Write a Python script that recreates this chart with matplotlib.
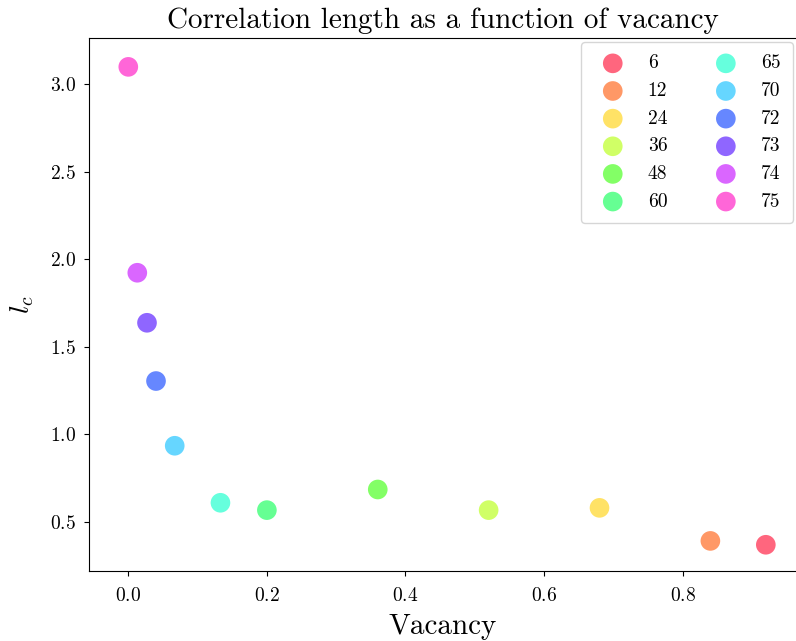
import numpy as np
import matplotlib
matplotlib.use("Agg")
import matplotlib.pyplot as plt

plt.rcParams["font.family"] = "serif"
plt.rcParams["font.serif"] = ["cmr10"]
plt.rcParams["mathtext.fontset"] = "cm"
plt.rcParams["axes.formatter.use_mathtext"] = True

# number of occupied sites (out of 75) and the fitted correlation length
n_sites = [6, 12, 24, 36, 48, 60, 65, 70, 72, 73, 74, 75]
vacancy = [0.920, 0.840, 0.680, 0.520, 0.360, 0.200, 0.133, 0.067, 0.040, 0.027, 0.013, 0.000]
l_c = [0.368, 0.390, 0.579, 0.566, 0.684, 0.566, 0.608, 0.934, 1.304, 1.637, 1.923, 3.100]

colors = plt.cm.gist_rainbow(np.linspace(0, 1, len(n_sites)))

fig = plt.figure(figsize=(7.96, 6.41), dpi=100)
ax = fig.add_axes([89 / 796, 1 - 571 / 641, (797 - 89) / 796, (571 - 38) / 641])

for n, v, l, c in zip(n_sites, vacancy, l_c, colors):
    ax.scatter(v, l, s=200, color=c, alpha=0.6, edgecolors="none", label=str(n))

ax.set_xlim(-0.0567, 0.965)
ax.set_ylim(0.218, 3.265)
ax.set_xticks([0.0, 0.2, 0.4, 0.6, 0.8])
ax.set_yticks([0.5, 1.0, 1.5, 2.0, 2.5, 3.0])
ax.tick_params(axis="x", labelsize=14, pad=8)
ax.tick_params(axis="y", labelsize=14, pad=6)

ax.set_title("Correlation length as a function of vacancy", fontsize=21, pad=7)
ax.set_xlabel("Vacancy", fontsize=21, labelpad=6)
ax.set_ylabel(r"$l_c$", fontsize=20, labelpad=10)

ax.legend(ncol=2, loc="upper right", fontsize=14, borderaxespad=0.2, borderpad=0.65)

fig.savefig("out.png", dpi=100)
